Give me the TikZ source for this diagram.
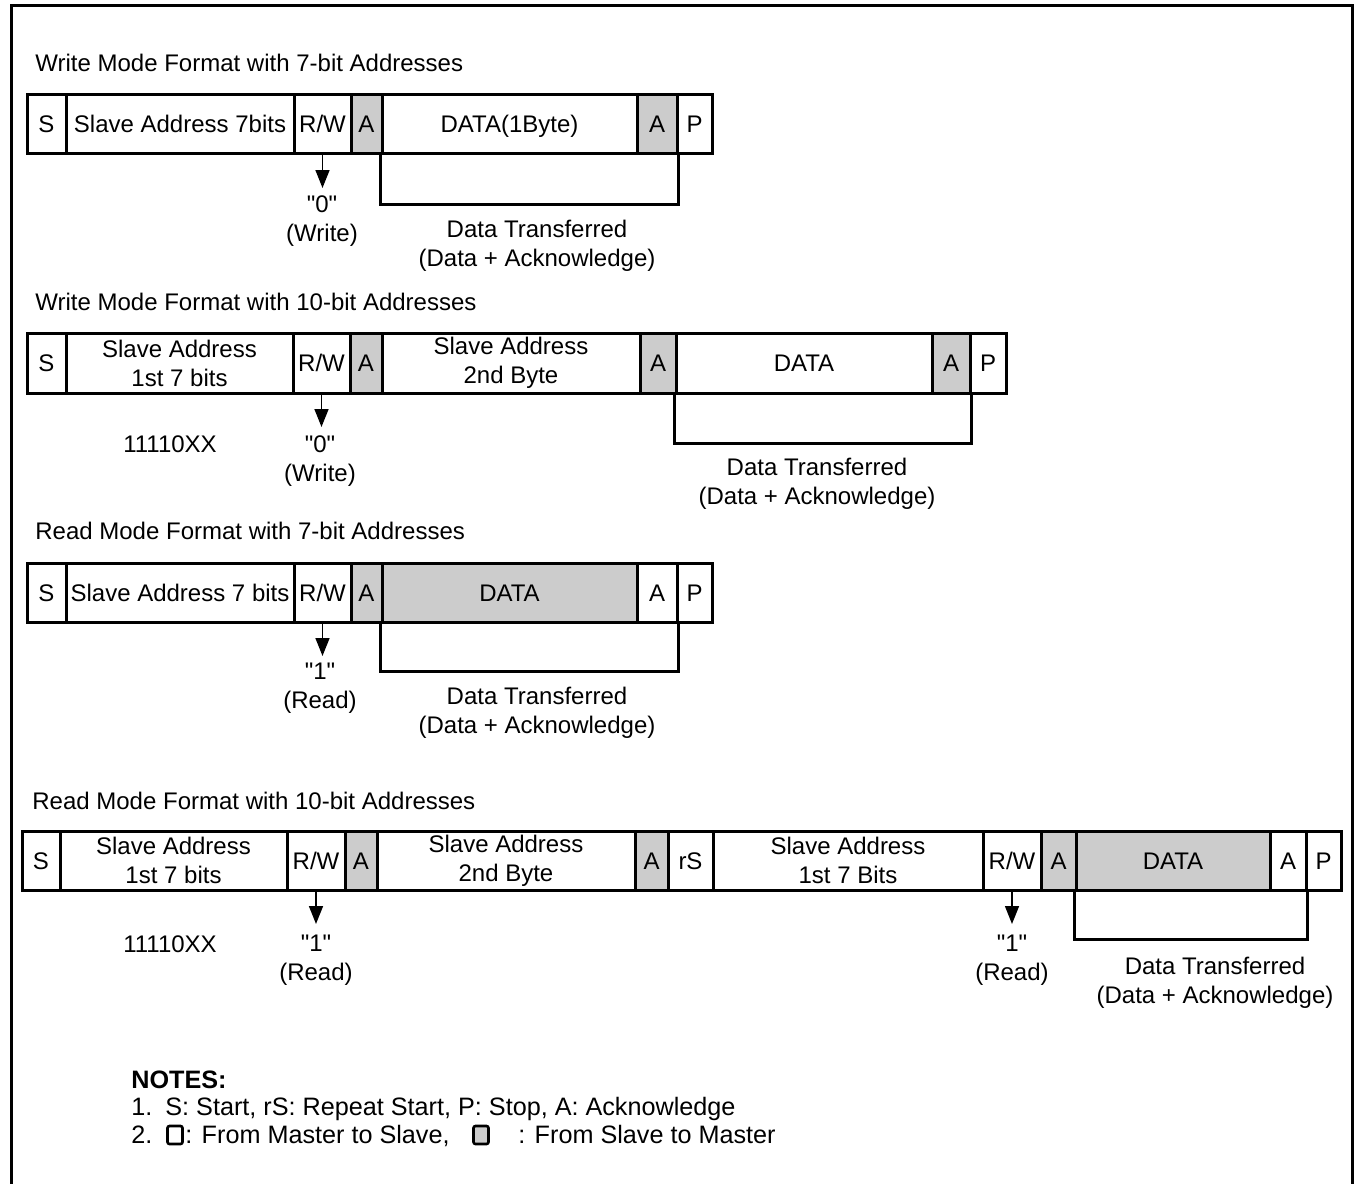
\documentclass[tikz,border=0pt]{standalone}
\usepackage{fontspec}
\setmainfont{Liberation Sans}[Ligatures=TeXOff]
\usetikzlibrary{arrows.meta}
\definecolor{lgray}{RGB}{204,204,204}
\begin{document}
\begin{tikzpicture}[x=0.5pt,y=-0.5pt,
  every node/.style={font=\fontsize{12}{14.5}\selectfont, inner sep=0pt},
  mcell/.style={draw, line width=1.5pt, align=center, minimum height=29.5pt},
  cell/.style={mcell, text height=8.6pt, text depth=0pt},
  gcell/.style={cell, fill=lgray},
  arr/.style={line width=0.75pt, -{Triangle[length=9pt,width=7pt]}},
  brk/.style={line width=1.5pt, line join=miter},
  frame/.style={line width=1.5pt},
  lbl/.style={align=center},
  ttl/.style={anchor=west},
  note/.style={anchor=base west, font=\fontsize{12.6}{15}\selectfont},
  sq/.style={draw, line width=1.3pt, rounded corners=1pt, minimum width=7.5pt, minimum height=9pt}]
\useasboundingbox (0,0) rectangle (1356,1184);
% frame (open at the bottom)
\coordinate (fbl) at (11.5,1184);
\coordinate (ftl) at (11.5,5.5);
\coordinate (ftr) at (1352.5,5.5);
\coordinate (fbr) at (1352.5,1184);
\draw[frame] (fbl) -- (ftl) -- (ftr) -- (fbr);

% ---------------- Row 1 ----------------
\node[ttl] (t1) at (35,63) {Write Mode Format with 7-bit Addresses};
\node[cell, minimum width=19.5pt] (r1s) at (46.5,123.5) {S};
\node[cell, minimum width=114pt] (r1addr) at (180,123.5) {Slave Address 7bits};
\node[cell, minimum width=28.5pt] (r1rw) at (322.5,123.5) {R/W};
\node[gcell, minimum width=15.5pt] (r1a1) at (366.5,123.5) {A};
\node[cell, minimum width=127.5pt] (r1data) at (509.5,123.5) {DATA(1Byte)};
\node[gcell, minimum width=20pt] (r1a2) at (657,123.5) {A};
\node[cell, minimum width=17.5pt] (r1p) at (694.5,123.5) {P};
\coordinate (r1arr) at (322.5,188);
\draw[arr] (r1rw.south) -- (r1arr);
\draw[brk] (r1data.south west) -- ++(0,50) -| (r1a2.south east);
\node[lbl] (r1val) at (322,221) {"0"\\(Write)};
\node[lbl] (r1dt) at (537,246) {Data Transferred\\(Data + Acknowledge)};

% ---------------- Row 2 ----------------
\node[ttl] (t2) at (35,302) {Write Mode Format with 10-bit Addresses};
\node[cell, minimum width=19.5pt, minimum height=30pt] (r2s) at (46.5,363) {S};
\node[mcell, minimum width=113.5pt, minimum height=30pt] (r2addr) at (179.5,363) {Slave Address\\1st 7 bits};
\node[cell, minimum width=28.5pt, minimum height=30pt] (r2rw) at (321.5,363) {R/W};
\node[gcell, minimum width=16pt, minimum height=30pt] (r2a1) at (366,363) {A};
\node[mcell, minimum width=129pt, minimum height=30pt] (r2addr2) at (511,363) {Slave Address\\2nd Byte};
\node[gcell, minimum width=18pt, minimum height=30pt] (r2a2) at (658,363) {A};
\node[cell, minimum width=128pt, minimum height=30pt] (r2data) at (804,363) {DATA};
\node[gcell, minimum width=19pt, minimum height=30pt] (r2a3) at (951,363) {A};
\node[cell, minimum width=18pt, minimum height=30pt] (r2p) at (988,363) {P};
\coordinate (r2arr) at (321.5,427);
\draw[arr] (r2rw.south) -- (r2arr);
\draw[brk] (r2data.south west) -- ++(0,49) -| (r2a3.south east);
\node (r2bits) at (170,444) {11110XX};
\node[lbl] (r2val) at (320,461) {"0"\\(Write)};
\node[lbl] (r2dt) at (817,484) {Data Transferred\\(Data + Acknowledge)};

% ---------------- Row 3 ----------------
\node[ttl] (t3) at (35,531) {Read Mode Format with 7-bit Addresses};
\node[cell, minimum width=19.5pt] (r3s) at (46.5,592.5) {S};
\node[cell, minimum width=114pt] (r3addr) at (180,592.5) {Slave Address 7 bits};
\node[cell, minimum width=28.5pt] (r3rw) at (322.5,592.5) {R/W};
\node[gcell, minimum width=15.5pt] (r3a1) at (366.5,592.5) {A};
\node[gcell, minimum width=127.5pt] (r3data) at (509.5,592.5) {DATA};
\node[cell, minimum width=20pt] (r3a2) at (657,592.5) {A};
\node[cell, minimum width=17.5pt] (r3p) at (694.5,592.5) {P};
\coordinate (r3arr) at (322.5,656);
\draw[arr] (r3rw.south) -- (r3arr);
\draw[brk] (r3data.south west) -- ++(0,48) -| (r3a2.south east);
\node[lbl] (r3val) at (320,688) {"1"\\(Read)};
\node[lbl] (r3dt) at (537,713) {Data Transferred\\(Data + Acknowledge)};

% ---------------- Row 4 ----------------
\node[ttl] (t4) at (32,801) {Read Mode Format with 10-bit Addresses};
\node[cell, minimum width=19pt] (r4s) at (41,860.5) {S};
\node[mcell, minimum width=113.5pt] (r4addr) at (173.5,860.5) {Slave Address\\1st 7 bits};
\node[cell, minimum width=29pt] (r4rw) at (316,860.5) {R/W};
\node[gcell, minimum width=16pt] (r4a1) at (361,860.5) {A};
\node[mcell, minimum width=129pt] (r4addr2) at (506,860.5) {Slave Address\\2nd Byte};
\node[gcell, minimum width=16.5pt] (r4a2) at (651.5,860.5) {A};
\node[cell, minimum width=22.5pt] (r4rs) at (690.5,860.5) {rS};
\node[mcell, minimum width=135pt] (r4addr3) at (848,860.5) {Slave Address\\1st 7 Bits};
\node[cell, minimum width=29pt] (r4rw2) at (1012,860.5) {R/W};
\node[gcell, minimum width=17.5pt] (r4a3) at (1058.5,860.5) {A};
\node[gcell, minimum width=97pt] (r4data) at (1173,860.5) {DATA};
\node[cell, minimum width=18pt] (r4a4) at (1288,860.5) {A};
\node[cell, minimum width=17.5pt] (r4p) at (1323.5,860.5) {P};
\coordinate (r4arr1) at (316,924);
\coordinate (r4arr2) at (1012,924);
\draw[arr] (r4rw.south) -- (r4arr1);
\draw[arr] (r4rw2.south) -- (r4arr2);
\draw[brk] (r4data.south west) -- ++(0,48) -| (r4a4.south east);
\node (r4bits) at (170,944) {11110XX};
\node[lbl] (r4val1) at (316,960) {"1"\\(Read)};
\node[lbl] (r4val2) at (1012,960) {"1"\\(Read)};
\node[lbl] (r4dt) at (1215,983) {Data Transferred\\(Data + Acknowledge)};

% ---------------- Notes ----------------
\node[note, font=\fontsize{12.6}{15}\selectfont\bfseries] (nt) at (131,1088) {NOTES:};
\node[note] (n1num) at (131,1115) {1.};
\node[note] (n1) at (165,1115) {S: Start, rS: Repeat Start, P: Stop, A: Acknowledge};
\node[note] (n2num) at (131,1143) {2.};
\node[sq] (wsq) at (175,1135) {};
\node[note] (n2a) at (185,1143) {: From Master to Slave,};
\node[sq, fill=lgray] (gsq) at (481,1135) {};
\node[note] (n2b) at (518,1143) {: From Slave to Master};
\end{tikzpicture}
\end{document}
